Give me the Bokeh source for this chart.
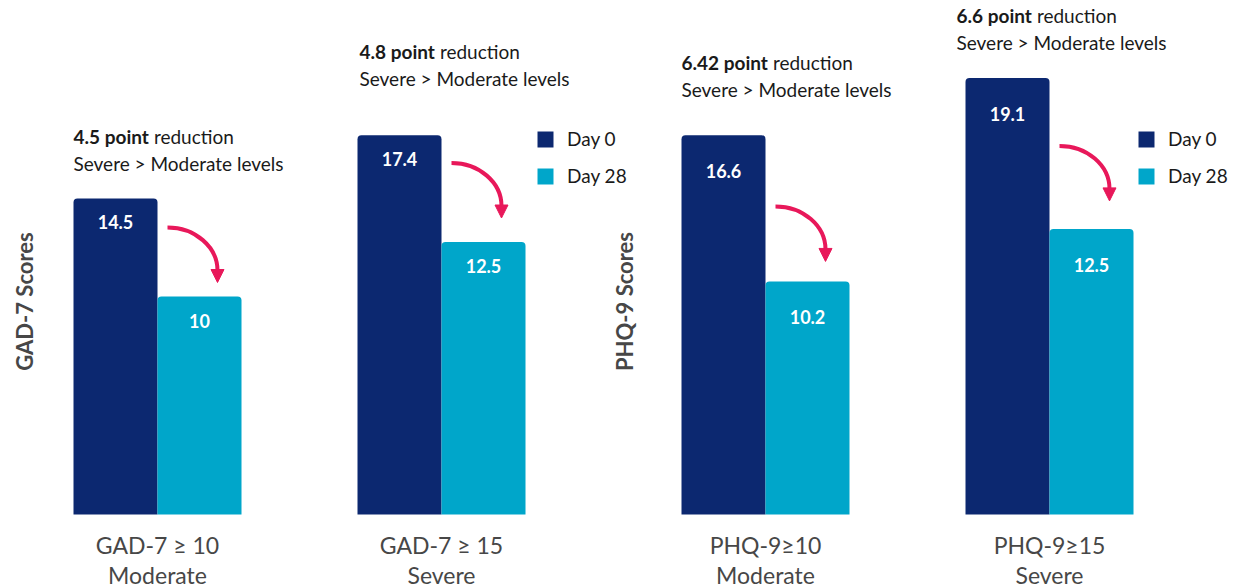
import numpy as np
from bokeh.plotting import figure
from bokeh.models import (ColumnDataSource, Legend, LegendItem, Label, Arrow,
                          NormalHead, Range1d)
from bokeh.core.properties import value
from bokeh.embed import file_html
from bokeh.resources import INLINE

# ---------------- data ----------------
gad_groups = ["GAD-7 \u2265 10", "GAD-7 \u2265 15"]
gad_levels = ["Moderate", "Severe"]
gad_day0 = [14.5, 17.4]
gad_day28 = [10, 12.5]
gad_reduction = ["4.5", "4.8"]

phq_groups = ["PHQ-9\u226510", "PHQ-9\u226515"]
phq_levels = ["Moderate", "Severe"]
phq_day0 = [16.6, 19.1]
phq_day28 = [10.2, 12.5]
phq_reduction = ["6.42", "6.6"]

series = ["Day 0", "Day 28"]
note_tail = "reduction"
note_line2 = "Severe > Moderate levels"

# ---------------- style / layout ----------------
NAVY = "#0c2870"
TEAL = "#00a6ca"
PINK = "#e8185a"
GREY = "#474747"
INK = "#1a1a1a"
FONT = "Lato"
NOTE_SIZE = 19

W, H = 1233, 588
BASE = 514     # pixel row of bar bottoms
XU = 284       # pixels between group centres in a panel
FIRST = 157    # pixel column of first group centre
BAR = 84       # bar width in pixels
GAD_PPU = 21.8
PHQ_PPU = 22.85
PHQ_SHIFT = 608 / XU   # PHQ panel starts this far right of GAD panel

p = figure(width=W, height=H,
           x_range=Range1d(-FIRST / XU, (W - FIRST) / XU),
           y_range=Range1d(-(H - BASE) / GAD_PPU, BASE / GAD_PPU),
           output_backend="svg", toolbar_location=None,
           x_axis_location=None, y_axis_location=None,
           min_border=0, outline_line_color=None,
           background_fill_color="white", border_fill_color="white")
p.extra_y_ranges = {"phq": Range1d(-(H - BASE) / PHQ_PPU, BASE / PHQ_PPU)}
p.xgrid.visible = False
p.ygrid.visible = False


def bold_width(s, size):
    w = {'.': 0.26, ' ': 0.193, 'p': 0.575, 'o': 0.57, 'i': 0.255,
         'n': 0.575, 't': 0.38}
    return sum(w.get(c, 0.58) for c in s) * size


def panel(shift, rng, ppu, groups, levels, day0, day28, reds, title,
          title_x, lifts, shifts, label_off, arrow_gap, legend_x):
    n = len(groups)
    xs = np.arange(n, dtype=float) + shift
    bw = BAR / XU
    bolds = [f"{r} point" for r in reds]
    tip = np.array(day28, dtype=float) + np.array(arrow_gap) / ppu
    src = ColumnDataSource(dict(
        xg=xs, xa=xs - bw / 2, xb=xs + bw / 2,
        left=xs - bw,
        d0=day0, d28=day28,
        l0=[f"{v:g}" for v in day0], l28=[f"{v:g}" for v in day28],
        grp=groups, lvl=levels,
        bold=bolds,
        tail=[note_tail] * n, line2=[note_line2] * n,
        lift1=[-l for l in lifts], lift2=[-l + 27 for l in lifts],
        sh=shifts,
        sh2=[s + bold_width(b, NOTE_SIZE) + 5 for s, b in zip(shifts, bolds)],
        ax0=xs + 10 / XU, ax1=xs + 60 / XU,
        ay0=tip + 55 / ppu, ay1=tip + 12 / ppu, tip=tip,
        acx0=xs + (10 + 0.55 * 50) / XU, acy0=tip + 55 / ppu,
        acx1=xs + 60 / XU, acy1=tip + (12 + 0.55 * 43) / ppu,
    ))
    kw = dict(source=src, y_range_name=rng)

    r0 = p.vbar(x="xa", top="d0", bottom=0, width=bw, fill_color=NAVY,
                line_color=None, border_radius=(4, 4, 0, 0), **kw)
    r28 = p.vbar(x="xb", top="d28", bottom=0, width=bw, fill_color=TEAL,
                 line_color=None, border_radius=(4, 4, 0, 0), **kw)

    # value labels
    for xc, yc, tc in (("xa", "d0", "l0"), ("xb", "d28", "l28")):
        p.text(x=xc, y=yc, text=tc, y_offset=label_off, text_align="center",
               text_baseline="middle", text_color="white",
               text_font=value(FONT), text_font_style="bold",
               text_font_size="18px", **kw)

    # category labels
    p.text(x="xg", y=0, text="grp", y_offset=30, text_align="center",
           text_baseline="middle", text_color=GREY, text_font=value(FONT),
           text_font_size="23px", **kw)
    p.text(x="xg", y=0, text="lvl", y_offset=60, text_align="center",
           text_baseline="middle", text_color=GREY, text_font=value(FONT),
           text_font_size="23px", **kw)

    # notes above the bars
    p.text(x="left", y="d0", text="bold", x_offset="sh", y_offset="lift1",
           text_align="left", text_baseline="middle", text_color=INK,
           text_font=value(FONT), text_font_style="bold",
           text_font_size=f"{NOTE_SIZE}px", **kw)
    p.text(x="left", y="d0", text="tail", x_offset="sh2", y_offset="lift1",
           text_align="left", text_baseline="middle", text_color=INK,
           text_font=value(FONT), text_font_size=f"{NOTE_SIZE}px", **kw)
    p.text(x="left", y="d0", text="line2", x_offset="sh", y_offset="lift2",
           text_align="left", text_baseline="middle", text_color=INK,
           text_font=value(FONT), text_font_size=f"{NOTE_SIZE}px", **kw)

    # curved arrows
    p.bezier(x0="ax0", y0="ay0", x1="ax1", y1="ay1", cx0="acx0", cy0="acy0",
             cx1="acx1", cy1="acy1", line_color=PINK, line_width=4, **kw)
    p.add_layout(Arrow(x_start="ax1", y_start="ay1", x_end="ax1", y_end="tip",
                       end=NormalHead(size=13, fill_color=PINK,
                                      line_color=PINK, line_width=1),
                       line_color=PINK, line_alpha=0, source=src,
                       y_range_name=rng))

    # legend
    legend = Legend(items=[LegendItem(label=series[0], renderers=[r0]),
                           LegendItem(label=series[1], renderers=[r28])],
                    location=(legend_x, H - 187), glyph_width=20,
                    glyph_height=20, label_height=20, label_standoff=12,
                    spacing=14, padding=0, margin=0, border_line_alpha=0,
                    background_fill_alpha=0, label_text_font=FONT,
                    label_text_font_size="19px", label_text_color=INK)
    p.add_layout(legend)

    # y title
    p.add_layout(Label(x=title_x, y=H - 301, x_units="screen",
                       y_units="screen", text=title, angle=np.pi / 2,
                       text_align="center", text_baseline="middle",
                       text_font=FONT, text_font_style="bold",
                       text_font_size="22px", text_color=GREY))


panel(0, "default", GAD_PPU, gad_groups, gad_levels, gad_day0, gad_day28,
      gad_reduction, "GAD-7 Scores", 24, [62, 84], [0, 2], 24, [14, 24], 535)
panel(PHQ_SHIFT, "phq", PHQ_PPU, phq_groups, phq_levels, phq_day0, phq_day28,
      phq_reduction, "PHQ-9 Scores", 624, [73, 63], [0, -9], 36, [20, 28], 1136)

open("out.html", "w").write(file_html(p, INLINE))
